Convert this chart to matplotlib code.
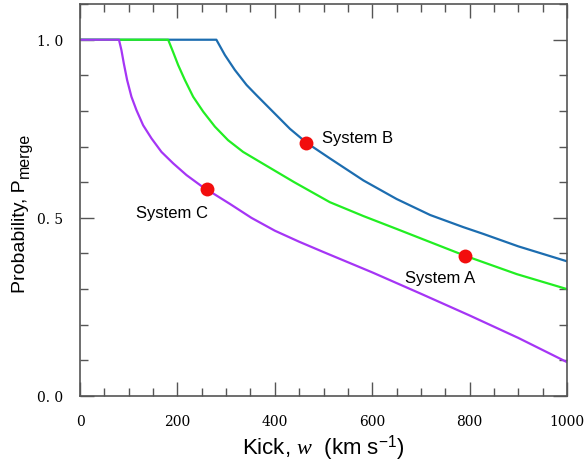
import matplotlib
matplotlib.use("Agg")
import matplotlib.pyplot as plt
from matplotlib.ticker import MultipleLocator, FuncFormatter
from matplotlib.transforms import offset_copy

plt.rcParams["font.family"] = ["Liberation Sans", "DejaVu Sans"]
plt.rcParams["mathtext.fontset"] = "custom"
plt.rcParams["mathtext.rm"] = "Liberation Sans"
plt.rcParams["mathtext.it"] = "Liberation Serif:italic"

# Merger probability versus natal kick speed for three systems
kick_c = [0, 80, 85, 90, 96.7, 105.6, 116, 129.6, 146.8, 167.3, 191.3, 218.7,
          249.6, 260, 308, 352, 400, 450, 500, 600, 700, 800, 900, 1000]
prob_c = [1.0, 1.0, 0.971, 0.933, 0.887, 0.840, 0.802, 0.760, 0.723, 0.685,
          0.653, 0.620, 0.589, 0.580, 0.539, 0.500, 0.464, 0.433, 0.404, 0.347,
          0.287, 0.226, 0.163, 0.095]

kick_a = [0, 181, 191, 201.5, 215.3, 232.3, 253, 277, 304, 335, 369.5, 440, 513,
          582, 650, 719, 790, 897, 1000]
prob_a = [1.0, 1.0, 0.966, 0.929, 0.887, 0.840, 0.798, 0.756, 0.718, 0.685,
          0.657, 0.600, 0.544, 0.505, 0.469, 0.432, 0.394, 0.342, 0.300]

kick_b = [0, 280, 297.5, 318, 342, 362.6, 396.8, 431, 465, 513, 582, 650, 719,
          787, 828, 900, 1000]
prob_b = [1.0, 1.0, 0.957, 0.915, 0.873, 0.844, 0.797, 0.750, 0.711, 0.667,
          0.605, 0.553, 0.508, 0.474, 0.455, 0.420, 0.378]

# Observed systems
sys_names = ["System A", "System B", "System C"]
sys_kick = [790, 465, 260]
sys_prob = [0.394, 0.711, 0.580]
label_pos = [(667, 0.334), (497, 0.725), (115, 0.515)]

x_ticks = [0, 200, 400, 600, 800, 1000]
y_ticks = [0.0, 0.5, 1.0]

W, H = 587, 464
fig = plt.figure(figsize=(W / 100, H / 100), dpi=100)
ax = fig.add_axes([0.1363, 0.1444, 0.8297, 0.8446])

ax.plot(kick_b, prob_b, color="#1c6db0", lw=1.6, solid_joinstyle="round")
ax.plot(kick_a, prob_a, color="#22ee22", lw=1.6, solid_joinstyle="round")
ax.plot(kick_c, prob_c, color="#a535f5", lw=1.6, solid_joinstyle="round")

ax.plot(sys_kick, sys_prob, "o", color="#f20d0d", ms=10, mec="none", zorder=5)
for name, (lx, ly) in zip(sys_names, label_pos):
    ax.text(lx, ly, name, fontsize=12, va="center", ha="left", color="black")

ax.set_xlim(0, 1000)
ax.set_ylim(0, 1.1)
ax.set_xticks(x_ticks)
ax.set_yticks(y_ticks)
ax.xaxis.set_minor_locator(MultipleLocator(50))
ax.yaxis.set_minor_locator(MultipleLocator(0.1))
ax.yaxis.set_major_formatter(FuncFormatter(lambda v, p: f"{v:.1f}".replace(".", ". ")))

ax.tick_params(which="both", direction="in", top=True, right=True,
               color="#555555", width=1.0)
ax.tick_params(which="major", length=10, labelsize=10)
ax.tick_params(which="minor", length=5.5)
for lab in ax.get_xticklabels() + ax.get_yticklabels():
    lab.set_fontfamily("DejaVu Serif")
ax.tick_params(axis="x", pad=13)
ax.tick_params(axis="y", pad=12)

for sp in ax.spines.values():
    sp.set_color("#555555")
    sp.set_linewidth(1.2)

ax.set_xlabel(r"Kick, $\mathit{w}$  (km s$^{\mathrm{-1}}$)", fontsize=16, labelpad=3)

# Y label: main text plus a larger-than-default subscript, drawn as two pieces
base_x, base_y = 25 / W, 1 - 293 / H
main = fig.text(base_x, base_y, "Probability, P", rotation=90,
                rotation_mode="anchor", ha="left", va="baseline", fontsize=14)
fig.canvas.draw()
ext = main.get_window_extent(fig.canvas.get_renderer())
top_px = ext.y1
fig.text(base_x + 4 / W, top_px / H + 1 / H, "merge", rotation=90,
         rotation_mode="anchor", ha="left", va="baseline", fontsize=11.5)

fig.savefig("out.png", dpi=100)
